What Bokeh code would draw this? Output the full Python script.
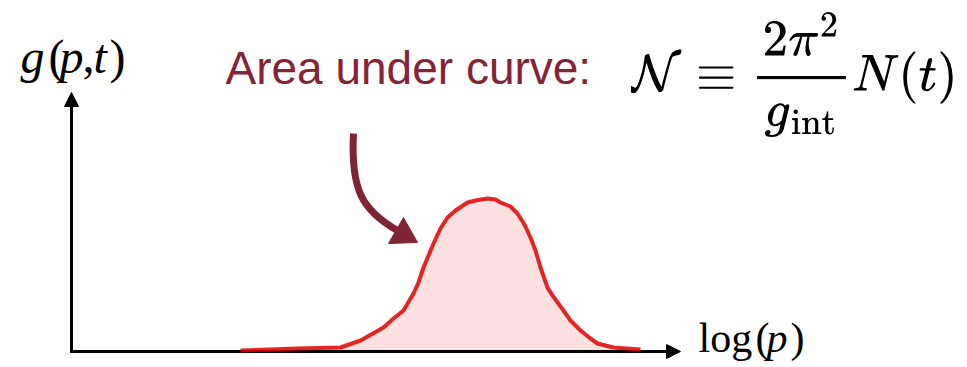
from bokeh.plotting import figure
from bokeh.models import Range1d, Arrow, NormalHead, Label
from bokeh.embed import file_html
from bokeh.resources import INLINE
from bokeh.core.properties import value

# Distribution g(p,t) sampled along log(p); the axes cross at (0, 0)
log_p = [169, 226, 269, 289, 312, 322, 332, 342, 347, 352, 357, 362, 369, 376, 384,
         396, 404, 416, 424, 429, 439, 446, 453, 459, 464, 469, 476, 481, 492, 499,
         509, 519, 526, 542, 569]
g_val = [1, 3, 4, 11, 24, 33, 41, 58, 69, 84, 96, 108, 123, 134, 141,
         149, 151, 153, 152, 149, 145, 138, 127, 114, 101, 84, 64, 56, 41, 31,
         21, 13, 8, 4, 2]

# Axis extents (arrow tips)
x_axis_end = 609
y_axis_end = 259

# Texts
y_label = [("g", "italic"), ("(", "normal"), ("p", "italic"), (",", "normal"), ("t", "italic"), (")", "normal")]
x_label = [("log", "normal"), ("(", "normal"), ("p", "italic"), (")", "normal")]
caption = "Area under curve:"
formula = r"$$\mathcal{N} \equiv \frac{2\pi^2}{g_\text{int}} N(t)$$"

CURVE_RED = "#e00000"
FILL_PINK = "#fde0e0"
MAROON = "#862336"
ARROW_MAROON = "#7e2435"

# the SVG text baseline sits lower than requested; lift by this share of the size
BASELINE_LIFT = 0.38

p = figure(width=967, height=367, output_backend="svg", toolbar_location=None,
           x_range=Range1d(-71, 896), y_range=Range1d(-16, 351),
           min_border=0, outline_line_color=None, background_fill_color="white")
p.axis.visible = False
p.grid.visible = False

# Area under the curve
p.varea(x=log_p, y1=[0] * len(log_p), y2=g_val, fill_color=FILL_PINK)

# Axes as one L-shaped path plus arrowheads
p.line([0, 0, x_axis_end - 8], [y_axis_end - 8, 0, 0], line_color="black",
       line_width=3, line_join="miter")
p.line(log_p, g_val, line_color=CURVE_RED, line_width=4, line_join="round",
       line_alpha=0.85)
for xs, ys, xe, ye in [(0, 0, 0, y_axis_end), (0, 0, x_axis_end, 0)]:
    p.add_layout(Arrow(x_start=xs, y_start=ys, x_end=xe, y_end=ye, line_alpha=0,
                       end=NormalHead(size=14, fill_color="black", line_color="black",
                                      line_width=1)))

# Curved pointer towards the area
p.bezier(x0=[282], y0=[218], x1=[326], y1=[121], cx0=[279], cy0=[161],
         cx1=[291], cy1=[141], line_color=ARROW_MAROON, line_width=7)
p.patch([346, 332, 317], [109, 134, 108], fill_color=ARROW_MAROON,
        line_color=ARROW_MAROON, line_width=1)

# Caption and formula
p.text(x=[154], y=[266 + BASELINE_LIFT * 46], text=[caption],
       text_font=value("Liberation Sans"), text_font_size="46px",
       text_color=MAROON, text_baseline="alphabetic")
p.add_layout(Label(x=559, y=277, text=formula, text_font_size="42px",
                   text_baseline="middle", text_align="left", text_color="black"))

# Axis labels in a serif face, variables in italics
def serif_pieces(pieces, xs, y, size):
    for (txt, style), x in zip(pieces, xs):
        p.text(x=[x], y=[y + BASELINE_LIFT * size], text=[txt],
               text_font=value("Liberation Serif"), text_font_style=style,
               text_font_size=f"{size}px", text_color="black",
               text_baseline="alphabetic")

serif_pieces(y_label, [-51, -23, -12, 11, 22, 38], 277, 48)
serif_pieces(x_label, [627, 684, 695, 719], -2, 42)

open("out.html", "w").write(file_html(p, INLINE))
